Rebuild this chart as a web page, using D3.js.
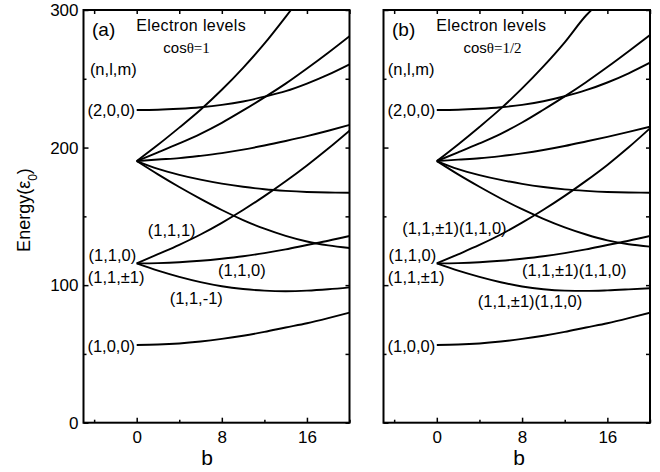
<!DOCTYPE html>
<html>
<head>
<meta charset="utf-8">
<script src="https://cdn.jsdelivr.net/npm/d3@7"></script>
<style>
  body { margin: 0; background: #fff; }
  svg text { font-family: "Liberation Sans", Arial, sans-serif; fill: #000; }
</style>
</head>
<body>
<svg id="chart" width="660" height="472"></svg>
<script>
// ---- data (b on x, energy in units of eps0 on y) ----
const bGrid  = [0, 2, 4, 6, 8, 10, 12, 14, 16, 18, 20];
const bSteep = [0, 2, 4, 6, 8, 10, 12, 14, 14.5];

// panel (a), cos(theta) = 1
const steepA   = [190.2, 202, 214.5, 227.5, 242, 258, 275.5, 295, 300];
const secondA  = [190.2, 196.5, 203, 210, 218, 227, 236.5, 246.5, 257.5, 269, 281];
const level200A = [227.3, 227.5, 228.2, 229.3, 231, 233.5, 237, 241, 246.5, 253, 260.5];
const gentleA  = [190.2, 191.3, 192.3, 194, 196, 198.5, 201.5, 204.8, 208.3, 212.2, 216.4];
const flatA    = [190.2, 184.5, 180.2, 176.7, 173.8, 171.5, 169.7, 168.5, 167.7, 167.3, 167.2];
const downA    = [190.2, 180.5, 171.3, 162.7, 154.6, 147.3, 141, 135.8, 131.7, 128.9, 127];
const l111A    = [115.8, 122.5, 129.3, 136.8, 145.3, 154.6, 164.7, 175.5, 187, 199.3, 212.3];
const l110A    = [115.8, 116, 116.6, 117.7, 119.2, 121, 123.3, 126, 129.2, 132.3, 135.7];
const l11m1A   = [115.8, 110.5, 106, 102.2, 99.2, 97.2, 96, 95.6, 96, 97, 98.4];
const l100A    = [56.5, 56.8, 57.6, 59, 60.9, 63.2, 66, 69.2, 72.3, 76, 80];

// panel (b), cos(theta) = 1/2
const steepB   = [190.2, 202.3, 215, 228.3, 243, 259, 276.5, 296, 300];
const secondB  = [190.2, 196.5, 203, 210, 218.2, 227.5, 237.2, 247.5, 258.5, 270, 281.8];
const level200B = [227.3, 227.5, 228.2, 229.3, 231, 233.7, 237.3, 241.7, 247.3, 254, 261.7];
const gentleB  = [190.2, 191.2, 192.2, 193.8, 195.8, 198.2, 201.1, 204.4, 207.8, 211.4, 215.2];
const flatB    = [190.2, 184.3, 180, 176.5, 173.6, 171.3, 169.6, 168.5, 167.7, 167.3, 167.2];
const downB    = [190.2, 180.5, 171.5, 163, 155.2, 148.2, 142, 136.8, 132.5, 129.7, 128];
const upperB   = [115.8, 122.4, 129.2, 136.8, 145.4, 154.8, 164.9, 175.8, 187.4, 200.2, 214];
const middleB  = [115.8, 116, 116.6, 117.7, 119.2, 121, 123.3, 126, 129.2, 132.3, 135.7];
const lowerB   = [115.8, 110.5, 106, 102.1, 99, 97, 96, 95.8, 96.2, 96.9, 97.7];
const l100B    = [56.5, 56.8, 57.6, 59, 60.9, 63.2, 66, 69.2, 72.3, 76, 80];

// axes
const xMajorTicks = [0, 8, 16];
const xMinorTicks = [-4, 4, 12, 20];
const yMajorTicks = [0, 100, 200, 300];
const yMinorTicks = [50, 150, 250];

// state labels: [text, b, E, anchor]
const labelsA = [
  ["(n,l,m)", -4.4, 252.7, "start"],
  ["(2,0,0)", -0.15, 223, "end"],
  ["(1,1,0)", -0.05, 117.5, "end"],
  ["(1,1,\u00b11)", -4.6, 101.5, "start"],
  ["(1,0,0)", -0.15, 51.5, "end"],
  ["(1,1,1)", 1.05, 135.7, "start"],
  ["(1,1,0)", 7.65, 106.6, "start"],
  ["(1,1,-1)", 3.1, 86.3, "start"]
];
const labelsB = [
  ["(n,l,m)", -4.6, 252.7, "start"],
  ["(2,0,0)", -0.15, 223, "end"],
  ["(1,1,\u00b11)(1,1,0)", -3.25, 137.5, "start"],
  ["(1,1,0)", -0.05, 117.5, "end"],
  ["(1,1,\u00b11)", -4.6, 101.5, "start"],
  ["(1,1,\u00b11)(1,1,0)", 8.0, 106.6, "start"],
  ["(1,1,\u00b11)(1,1,0)", 3.85, 84, "start"],
  ["(1,0,0)", -0.15, 51.5, "end"]
];

const panels = [
  {
    id: "a", left: 83.5, right: 349.5, tag: "(a)", cosVal: "=1", showY: true, bLabelX: 207,
    curves: [[bSteep, steepA], [bGrid, secondA], [bGrid, level200A], [bGrid, gentleA], [bGrid, flatA],
             [bGrid, downA], [bGrid, l111A], [bGrid, l110A], [bGrid, l11m1A], [bGrid, l100A]],
    labels: labelsA
  },
  {
    id: "b", left: 383.5, right: 650, tag: "(b)", cosVal: "=1/2", showY: false, bLabelX: 519,
    curves: [[bSteep, steepB], [bGrid, secondB], [bGrid, level200B], [bGrid, gentleB], [bGrid, flatB],
             [bGrid, downB], [bGrid, upperB], [bGrid, middleB], [bGrid, lowerB], [bGrid, l100B]],
    labels: labelsB
  }
];

const plotTop = 10, plotBottom = 422.7;
const svg = d3.select("#chart");

const y = d3.scaleLinear().domain([0, 300]).range([plotBottom, plotTop]);

function drawPanel(p) {
  const x = d3.scaleLinear().domain([-5, 20]).range([p.left, p.right]);
  const g = svg.append("g");

  g.append("clipPath").attr("id", "clip-" + p.id)
    .append("rect")
    .attr("x", p.left).attr("y", plotTop)
    .attr("width", p.right - p.left).attr("height", plotBottom - plotTop);

  const line = d3.line()
    .x(d => x(d[0]))
    .y(d => y(d[1]))
    .curve(d3.curveMonotoneX);

  g.append("g").attr("clip-path", "url(#clip-" + p.id + ")")
    .selectAll("path")
    .data(p.curves)
    .join("path")
    .attr("d", c => line(c[0].map((b, i) => [b, c[1][i]])))
    .attr("fill", "none")
    .attr("stroke", "#000")
    .attr("stroke-width", 1.9);

  // ticks (inward on all four sides)
  const addAxis = (axis, tr) => {
    const a = g.append("g").attr("transform", tr).call(axis);
    a.select(".domain").remove();
    a.selectAll(".tick line").attr("stroke", "#000").attr("stroke-width", 1.5);
    a.selectAll("text").style("font-size", "17px").attr("fill", "#000");
    return a;
  };
  addAxis(d3.axisBottom(x).tickValues(xMajorTicks).tickSizeInner(-5).tickSizeOuter(0).tickPadding(8),
          `translate(0,${plotBottom})`);
  addAxis(d3.axisBottom(x).tickValues(xMinorTicks).tickSizeInner(-3).tickSizeOuter(0).tickFormat(""),
          `translate(0,${plotBottom})`);
  addAxis(d3.axisTop(x).tickValues(xMajorTicks.concat(xMinorTicks)).tickSizeInner(-4).tickSizeOuter(0).tickFormat(""),
          `translate(0,${plotTop})`);
  const yMajor = d3.axisLeft(y).tickValues(yMajorTicks).tickSizeInner(-5).tickSizeOuter(0).tickPadding(5);
  if (!p.showY) yMajor.tickFormat("");
  addAxis(yMajor, `translate(${p.left},0)`);
  addAxis(d3.axisLeft(y).tickValues(yMinorTicks).tickSizeInner(-3).tickSizeOuter(0).tickFormat(""),
          `translate(${p.left},0)`);
  addAxis(d3.axisRight(y).tickValues(yMajorTicks.concat(yMinorTicks)).tickSizeInner(-4).tickSizeOuter(0).tickFormat(""),
          `translate(${p.right},0)`);

  // frame
  g.append("rect")
    .attr("x", p.left).attr("y", plotTop)
    .attr("width", p.right - p.left).attr("height", plotBottom - plotTop)
    .attr("fill", "none").attr("stroke", "#000").attr("stroke-width", 2);

  // headings
  g.append("text").attr("x", x(-4.2)).attr("y", 36)
    .style("font-size", "19px").text(p.tag);
  g.append("text").attr("x", x(-0.05)).attr("y", 31)
    .style("font-size", "16px").style("letter-spacing", "0.4px").text("Electron levels");
  const cos = g.append("text").attr("x", x(2.5)).attr("y", 53).style("font-size", "15px");
  cos.append("tspan").text("cos");
  cos.append("tspan").style("font-family", "'Liberation Serif', 'Times New Roman', serif")
    .text("\u03b8" + p.cosVal);

  // state labels
  g.selectAll("text.state")
    .data(p.labels)
    .join("text")
    .attr("class", "state")
    .attr("x", d => x(d[1]))
    .attr("y", d => y(d[2]))
    .attr("text-anchor", d => d[3])
    .style("font-size", "16.5px")
    .text(d => d[0]);

  // x axis title
  g.append("text").attr("x", p.bLabelX).attr("y", 465)
    .attr("text-anchor", "middle")
    .style("font-size", "21px")
    .text("b");
}

panels.forEach(drawPanel);

// y axis title
const yt = svg.append("text")
  .attr("transform", "translate(30,210) rotate(-90)")
  .attr("text-anchor", "middle")
  .style("font-size", "18px");
yt.append("tspan").text("Energy(\u03b5");
yt.append("tspan").attr("baseline-shift", "sub").style("font-size", "12px").text("0");
yt.append("tspan").text(")");
</script>
</body>
</html>
